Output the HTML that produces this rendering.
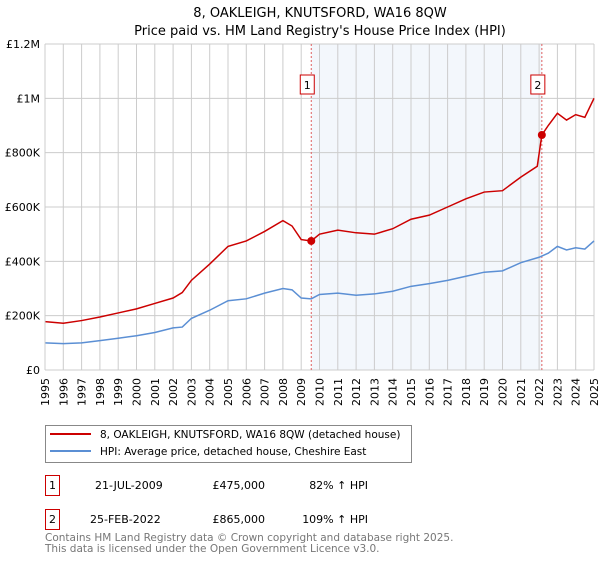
<!DOCTYPE html>
<html><head><meta charset="utf-8"><style>
body{margin:0;background:#fff;font-family:"DejaVu Sans","Liberation Sans",sans-serif;}
</style></head><body>
<svg id="c" width="600" height="560" xmlns="http://www.w3.org/2000/svg" font-family="DejaVu Sans, Liberation Sans, sans-serif">
<text x="320" y="17" text-anchor="middle" font-size="13">8, OAKLEIGH, KNUTSFORD, WA16 8QW</text>
<text x="320" y="35" text-anchor="middle" font-size="13">Price paid vs. HM Land Registry's House Price Index (HPI)</text>
<g id="plot"></g>
<g>
<rect x="45.5" y="425.5" width="366" height="37" fill="#fff" stroke="#888"/>
<line x1="50" y1="434" x2="91" y2="434" stroke="#cc0000" stroke-width="2"/>
<text x="100" y="438" font-size="10.5">8, OAKLEIGH, KNUTSFORD, WA16 8QW (detached house)</text>
<line x1="50" y1="451" x2="91" y2="451" stroke="#5b8fd4" stroke-width="2"/>
<text x="100" y="455" font-size="10.5">HPI: Average price, detached house, Cheshire East</text>
</g>
<g font-size="11">
<rect x="45.5" y="475.5" width="14" height="20" fill="#fff" stroke="#cc0000"/>
<text x="52.5" y="489" text-anchor="middle">1</text>
<text x="95" y="489">21-JUL-2009</text>
<text x="265" y="489" text-anchor="end">£475,000</text>
<text x="368" y="489" text-anchor="end">82% ↑ HPI</text>
<rect x="45.5" y="509.5" width="14" height="20" fill="#fff" stroke="#cc0000"/>
<text x="52.5" y="523" text-anchor="middle">2</text>
<text x="90" y="523">25-FEB-2022</text>
<text x="265" y="523" text-anchor="end">£865,000</text>
<text x="368" y="523" text-anchor="end">109% ↑ HPI</text>
</g>
<text x="45" y="541" font-size="10.5" fill="#777">Contains HM Land Registry data © Crown copyright and database right 2025.</text>
<text x="45" y="552" font-size="10.5" fill="#777">This data is licensed under the Open Government Licence v3.0.</text>
</svg>
<script>
const yTicks=[0,200000,400000,600000,800000,1000000,1200000];
const yTickLabels=["£0","£200K","£400K","£600K","£800K","£1M","£1.2M"];
const years=[1995,1996,1997,1998,1999,2000,2001,2002,2003,2004,2005,2006,2007,2008,2009,2010,2011,2012,2013,2014,2015,2016,2017,2018,2019,2020,2021,2022,2023,2024,2025];
const propT=[1995,1996,1997,1998,1999,2000,2001,2002,2002.5,2003,2004,2005,2006,2007,2008,2008.5,2009,2009.55,2010,2011,2012,2013,2014,2015,2016,2017,2018,2019,2020,2021,2021.9,2022.15,2022.5,2023,2023.5,2024,2024.5,2025];
const propV=[178000,172000,182000,195000,210000,225000,245000,265000,285000,330000,390000,455000,475000,510000,550000,530000,480000,475000,500000,515000,505000,500000,520000,555000,570000,600000,630000,655000,660000,710000,750000,865000,900000,945000,920000,940000,930000,1000000];
const hpiT=[1995,1996,1997,1998,1999,2000,2001,2002,2002.5,2003,2004,2005,2006,2007,2008,2008.5,2009,2009.55,2010,2011,2012,2013,2014,2015,2016,2017,2018,2019,2020,2021,2022,2022.5,2023,2023.5,2024,2024.5,2025];
const hpiV=[100000,97000,100000,108000,117000,126000,138000,155000,158000,190000,220000,255000,262000,283000,300000,295000,265000,262000,278000,283000,275000,280000,290000,308000,318000,330000,345000,360000,365000,395000,415000,430000,455000,442000,450000,445000,475000];
const saleT=[2009.55,2022.15];
const saleV=[475000,865000];
const saleLabels=["1","2"];
const L=45,R=594,T=44,B=370;
const x=t=>L+(t-1995)/(2025-1995)*(R-L);
const y=v=>B-v/1200000*(B-T);
const NS="http://www.w3.org/2000/svg";
const g=document.getElementById('plot');
function mk(tag,attrs){const e=document.createElementNS(NS,tag);for(const k in attrs)e.setAttribute(k,attrs[k]);g.appendChild(e);return e;}
let e=mk('rect',{x:x(saleT[0]),y:T,width:x(saleT[1])-x(saleT[0]),height:B-T,fill:'#eef3fb',opacity:0.7});


years.forEach((yr,i)=>{
 let l=mk('line',{x1:x(yr),x2:x(yr),y1:T,y2:B,stroke:'#ccc','stroke-width':1});
 
 
 let t=mk('text',{x:0,y:0,'font-size':11,'text-anchor':'end',transform:`translate(${x(yr)+4},${B+8}) rotate(-90)`});
 t.textContent=yr;
 
 
});
yTicks.forEach((v,i)=>{
 let l=mk('line',{x1:L,x2:R,y1:y(v),y2:y(v),stroke:'#ccc','stroke-width':1});
 
 
 let t=mk('text',{x:L-5,y:y(v)+4,'font-size':11,'text-anchor':'end'});
 t.textContent=yTickLabels[i];
 
 
});
saleT.forEach((s,i)=>{
 let l=mk('line',{x1:x(s),x2:x(s),y1:T,y2:B,stroke:'#e06060','stroke-width':1,'stroke-dasharray':'2,2'});
 
 
 let r=mk('rect',{x:x(s)-11,y:75,width:14,height:19,fill:'#fff',stroke:'#cc0000'});
 
 
 let t=mk('text',{x:x(s)-4,y:89,'font-size':11,'text-anchor':'middle'});
 t.textContent=saleLabels[i];
 
 
});
let hp=mk('polyline',{points:hpiT.map((t,i)=>x(t)+','+y(hpiV[i])).join(' '),fill:'none',stroke:'#5b8fd4','stroke-width':1.5});


let pp=mk('polyline',{points:propT.map((t,i)=>x(t)+','+y(propV[i])).join(' '),fill:'none',stroke:'#cc0000','stroke-width':1.5});


saleT.forEach((s,i)=>{
 let c=mk('circle',{cx:x(s),cy:y(saleV[i]),r:4,fill:'#cc0000'});
 
 
});
let ax=mk('line',{x1:L,x2:L,y1:T,y2:B,stroke:'#ccc'});


</script>
</body></html>
